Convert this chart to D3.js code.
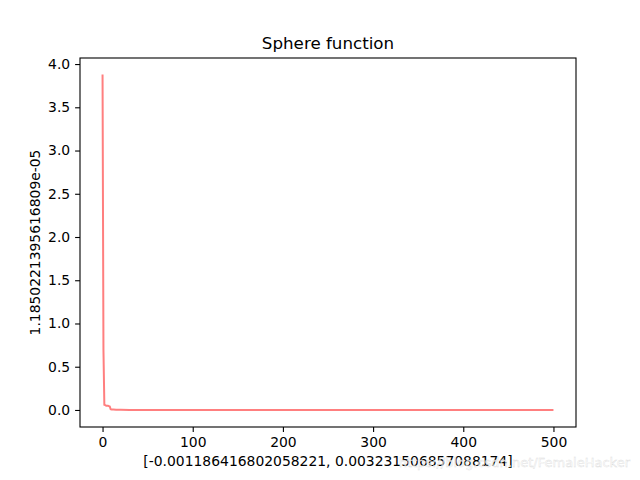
<!DOCTYPE html>
<html><head><meta charset="utf-8">
<script src="https://cdn.jsdelivr.net/npm/d3@7"></script>
<style>body{margin:0;background:#fff}text{font-family:"DejaVu Sans",sans-serif}</style>
</head><body><div id="chart"></div>
<script>
const iterations = [0, 1, 2, 3, 4, 5, 6, 7, 8, 9, 10, 12, 15, 20, 30, 50, 100, 200, 300, 400, 500]
const fitness = [3.88, 0.7, 0.06, 0.055, 0.05, 0.05, 0.048, 0.045, 0.04, 0.008, 0.005, 0.004, 0.003, 0.002, 0.001, 0.0005, 0.0002, 0.0001, 0.00005, 0.00002, 0.0000119]
const xTicks = [0, 100, 200, 300, 400, 500]
const yTicks = [0, 0.5, 1, 1.5, 2, 2.5, 3, 3.5, 4]
const title = 'Sphere function'
const xLabel = '[-0.001186416802058221, 0.003231506857088174]'
const yLabel = '1.1850221395616809e-05'

const W = 640, H = 480
const m = {left: 80, right: 64, top: 58, bottom: 53}
const svg = d3.select('#chart').append('svg').attr('width', W).attr('height', H)
const x = d3.scaleLinear().domain([-25, 525]).range([m.left, W - m.right])
const y = d3.scaleLinear().domain([-0.197, 4.07]).range([H - m.bottom, m.top])

svg.append('path').datum(iterations.map((d, i) => [d, fitness[i]]))
  .attr('fill', 'none').attr('stroke', '#ff7f7f').attr('stroke-width', 2)
  .attr('d', d3.line().x(d => x(d[0])).y(d => y(d[1])))

const gx = svg.append('g').attr('transform', `translate(0,${H - m.bottom})`)
  .call(d3.axisBottom(x).tickValues(xTicks).tickSize(4.9).tickPadding(4.9))
const gy = svg.append('g').attr('transform', `translate(${m.left},0)`)
  .call(d3.axisLeft(y).tickValues(yTicks).tickFormat(d3.format('.1f')).tickSize(4.9).tickPadding(4.9))
for (const g of [gx, gy]) {
  g.select('.domain').remove()
  g.selectAll('text').attr('font-size', 13.9).attr('fill', '#000').style('font-family', 'DejaVu Sans')
  g.selectAll('line').attr('stroke', '#000').attr('stroke-width', 1.1)
}
svg.append('rect').attr('x', m.left).attr('y', m.top)
  .attr('width', W - m.left - m.right).attr('height', H - m.top - m.bottom)
  .attr('fill', 'none').attr('stroke', '#000').attr('stroke-width', 1.1)

svg.append('text').attr('x', (m.left + W - m.right) / 2).attr('y', m.top - 9)
  .attr('text-anchor', 'middle').attr('font-size', 16.7).text(title)
svg.append('text').attr('x', (m.left + W - m.right) / 2).attr('y', 466)
  .attr('text-anchor', 'middle').attr('font-size', 13.9).text(xLabel)
svg.append('text').attr('transform', `translate(40,${(m.top + H - m.bottom) / 2}) rotate(-90)`)
  .attr('text-anchor', 'middle').attr('font-size', 13.9).text(yLabel)
svg.append('text').attr('x', 630).attr('y', 467).attr('text-anchor', 'end')
  .attr('font-size', 13).attr('fill', '#fff').attr('fill-opacity', 0.6).attr('stroke', '#ddd').attr('stroke-width', 0.4)
  .text('https://blog.csdn.net/FemaleHacker')
</script></body></html>
